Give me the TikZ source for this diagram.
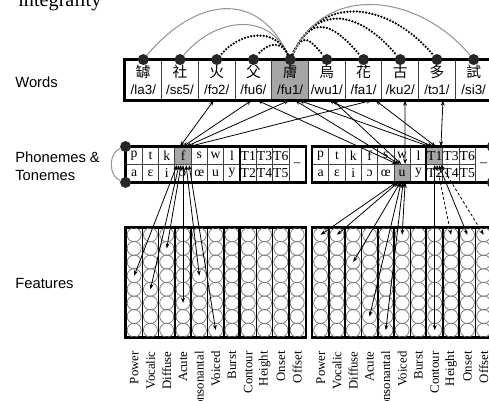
\documentclass[tikz,border=0pt]{standalone}
\usepackage{fontspec}
\setmainfont{Liberation Sans}
\newfontfamily\cjkfont{Noto Sans CJK TC}
\newfontfamily\ipaserif{Liberation Serif}
\usepackage{tikz}
\usetikzlibrary{arrows.meta, positioning, calc, backgrounds}
\definecolor{CellGray}{RGB}{166, 166, 166}
\definecolor{KnotDark}{RGB}{38, 38, 38}
\definecolor{ArcGray}{RGB}{150, 150, 150}
\definecolor{RingGray}{RGB}{125, 125, 125}

\begin{document}
\begin{tikzpicture}[
    x=0.02cm, y=0.02cm,
    wordcell/.style={rectangle, draw=black!75, line width=0.5pt, minimum width=0.734cm, minimum height=0.8cm, inner sep=0pt, align=center, font=\fontsize{7.6}{9.8}\selectfont},
    phcell/.style={rectangle, draw=black!75, line width=0.5pt, minimum width=0.326cm, minimum height=0.35cm, inner sep=0pt, font=\ipaserif\fontsize{7.8}{8}\selectfont},
    featcol/.style={rectangle, draw=black, line width=0.9pt, minimum width=0.326cm, minimum height=2.18cm, inner sep=0pt},
    ring/.style={circle, draw=RingGray, line width=0.45pt, minimum size=0.28cm, inner sep=0pt},
    knot/.style={circle, fill=KnotDark, minimum size=0.22cm, inner sep=0pt},
    thickframe/.style={draw=black, line width=1.3pt},
    sidelabel/.style={anchor=west, inner sep=0pt, align=left, font=\fontsize{8.4}{10.2}\selectfont},
    featlabel/.style={rotate=90, anchor=east, inner sep=0pt, font=\ipaserif\fontsize{7.3}{8}\selectfont},
    link/.style={{Stealth[length=3pt,width=2.2pt]}-{Stealth[length=3pt,width=2.2pt]}, line width=0.45pt},
    dashlink/.style={link, dash pattern=on 1.6pt off 1.2pt},
    greyarc/.style={draw=ArcGray, line width=0.6pt},
    dotarc/.style={draw=black, line width=1.4pt, line cap=round, dash pattern=on 0pt off 1.8pt}
  ]
    \useasboundingbox (0,0) rectangle (489,401);

    % Page text above
    \node[anchor=base west, inner sep=0pt, font=\ipaserif\fontsize{11.5}{13}\selectfont] (pagetext) at (18,394) {integrality};

    % Side labels
    \node[sidelabel] (lblwords) at (15,319) {Words};
    \node[sidelabel] (lblphon) at (15,235) {Phonemes \&\\Tonemes};
    \node[sidelabel] (lblfeat) at (15,117) {Features};

    % Words
    \foreach \ch/\tr [count=\i] in {罅/la3, 社/sɛ5, 火/fɔ2, 父/fu6, 膚/fu1, 烏/wu1, 花/fa1, 古/ku2, 多/tɔ1, 試/si3}
      \node[wordcell] (w\i) at ({125+36.7*(\i-0.5)},321) {{\cjkfont\fontsize{8.4}{9.8}\selectfont\ch}\\/\tr/};
    \draw[thickframe] (w10.north east) -- (w1.north west) -- (w1.south west) -- (w10.south east);
    \foreach \i in {1,...,10}
      \node[knot] (d\i) at (w\i.north) {};

    % Arcs from /fu1/
    \foreach \j/\lo in {1/1.33, 2/1.18}
      \draw[greyarc] (d5) to[out=115, in=50, looseness=\lo] (d\j);
    \foreach \j/\lo in {3/1.16, 4/1.32}
      \draw[dotarc] (d5) to[out=115, in=50, looseness=\lo] (d\j);
    \foreach \j/\lo in {6/1.98, 7/1.67, 8/1.41, 9/1.25}
      \draw[dotarc] (d5) to[out=65, in=130, looseness=\lo] (d\j);
    \draw[greyarc] (d5) to[out=65, in=130, looseness=1.15] (d10);

    % Phonemes & tonemes
    \foreach \b/\x in {l/126, r/312.5} {
      \foreach \ph [count=\i] in {p,t,k,f,s,w,l,T1,T3,T6}
        \node[phcell] (\b-t\i) at ({\x+16.3*(\i-0.5)},245.25) {\ph};
      \foreach \ph [count=\i] in {a,ɛ,i,ɔ,œ,u,y,T2,T4,T5}
        \node[phcell] (\b-b\i) at ({\x+16.3*(\i-0.5)},227.75) {\ph};
      \node[phcell, minimum height=0.7cm] (\b-d) at ({\x+16.3*10.5},236.5) {–};
      \draw[thickframe] (\b-t1.north west) rectangle (\b-d.south east);
      \draw[thickframe] (\b-t8.north west) -- (\b-b8.south west);
    }
    \node[knot] (l-kt) at (l-t1.north west) {};
    \node[knot] (l-kb) at (l-b1.south west) {};
    \node[knot] (r-kt) at (r-d.north east) {};
    \node[knot] (r-kb) at (r-d.south east) {};
    \draw[greyarc] (l-kt) to[out=200, in=160] (l-kb);

    % Shaded units
    \begin{scope}[on background layer]
      \fill[CellGray] (w5.south west) rectangle (w5.north east);
      \fill[CellGray] (l-t4.south west) rectangle (l-t4.north east);
      \fill[CellGray] (r-b6.south west) rectangle (r-b6.north east);
      \fill[CellGray] (r-t8.south west) rectangle (r-t8.north east);
    \end{scope}

    % Features
    \foreach \b/\x in {l/126, r/312.5} {
      \foreach \lab [count=\i] in {Power,Vocalic,Diffuse,Acute,Consonantal,Voiced,Burst,Contour,Height,Onset,Offset} {
        \node[featcol] (\b-f\i) at ({\x+16.3*(\i-0.5)},118.5) {};
        \foreach \k in {0,...,7}
          \node[ring] (\b-f\i-\k) at ({\x+16.3*(\i-0.5)},{166.2-13.625*\k}) {};
        \node[featlabel] (\b-n\i) at ({\x+16.3*(\i-0.5)},50) {\lab};
      }
      \draw[thickframe] (\b-f1.north west) rectangle (\b-f11.south east);
      \draw[thickframe] (\b-f8.north west) -- (\b-f8.south west);
    }

    % Words <-> phonemes
    \foreach \s/\sx/\t/\tx in {w3/-3/l-t4/-3, w4/-2/l-t4/0, w5/-1/l-t4/3, w7/8/l-t4/6,
                               w4/4/r-b6/-5, w5/5/r-b6/-3, w6/6/r-b6/-1, w8/4.8/r-b6/2.9,
                               w5/9/r-t8/-5, w6/2/r-t8/-2, w7/12/r-t8/1, w9/6/r-t8/6.2}
      \draw[link] ($(\s.south)+(\sx,0)$) -- ($(\t.north)+(\tx,0)$);

    % Phonemes <-> features
    \foreach \t/\tx/\f in {l-t4/-6/l-f1-3, l-t4/-4/l-f2-4, l-t4/-2/l-f3-1, l-t4/0/l-f4-5, l-t4/3/l-f5-3, l-t4/6/l-f6-7,
                           r-b6/-6/r-f1-0, r-b6/-4/r-f2-0, r-b6/-2/r-f3-2, r-b6/-1/r-f4-6, r-b6/1/r-f5-7, r-b6/3/r-f6-0,
                           r-t8/0/r-f8-7, r-t8/4/r-f10-0}
      \draw[link] ($(\t.south)+(\tx,0)$) -- (\f.center);
    \foreach \t/\tx/\f in {r-t8/2/r-f9-0, r-t8/6/r-f11-0}
      \draw[dashlink] ($(\t.south)+(\tx,0)$) -- (\f.center);
  \end{tikzpicture}
\end{document}
